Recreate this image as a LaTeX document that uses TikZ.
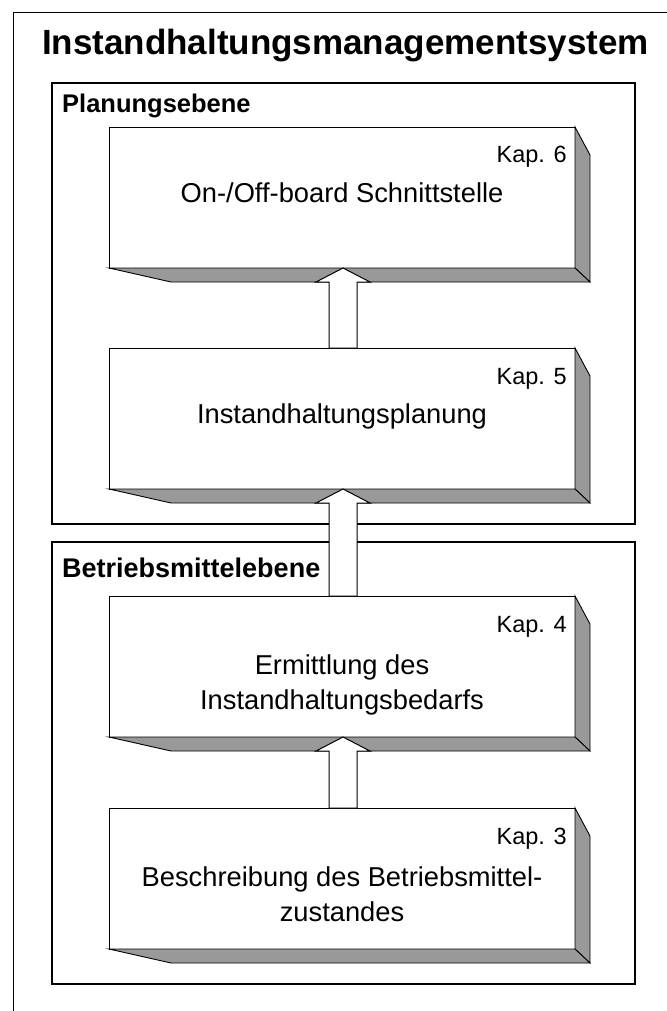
\documentclass[tikz,border=0pt]{standalone}
\usepackage{fontspec}
\setmainfont{Liberation Sans}
\usetikzlibrary{calc}
\definecolor{sidegray}{RGB}{153,153,153}
\newcommand\mkthreed[1]{%
  \draw[face] (#1.north east) -- ++(15,28) -- ($(#1.south east)+(15,14)$) -- (#1.south east) -- cycle;
  \draw[face] (#1.south west) -- ($(#1.south west)+(62,14)$) -- ($(#1.south east)+(15,14)$) -- (#1.south east) -- cycle;
}
\newcommand\mkarrow[2]{%
  \draw[blockarrow] ($(#1.south)+(1,0)$) -- ++(27,14) -- ++(-13,0) -- ($(#2.north)+(15,0)$)
    -- ($(#2.north)+(-13,0)$) -- ($(#1.south)+(-13,14)$) -- ++(-13,0) -- cycle;
}
\begin{document}
\begin{tikzpicture}[x=1pt,y=-1pt,
  frame/.style={draw, line width=1.1pt, inner sep=0pt, outer sep=0pt, anchor=north west},
  front/.style={draw, fill=white, line width=0.9pt, inner sep=0pt, outer sep=0pt,
    minimum width=466pt, minimum height=141pt, anchor=north west},
  face/.style={draw, fill=sidegray, line width=0.9pt, line join=miter},
  blockarrow/.style={draw, fill=white, line width=1pt, line join=miter},
  title/.style={font=\bfseries\fontsize{35}{42}\selectfont, inner sep=0pt, anchor=base},
  level/.style={font=\bfseries\fontsize{25.5}{30}\selectfont, inner sep=0pt, anchor=base west},
  kap/.style={font=\fontsize{23.5}{28}\selectfont, inner sep=0pt, anchor=base east},
  body/.style={font=\fontsize{27.3}{35}\selectfont, inner sep=0pt, align=center}]
\useasboundingbox (0,0) rectangle (666,1011);
\fill[white] (0,0) rectangle (666,1011);
% outer frame
\draw[line width=1pt] (13,1020) -- (13,13) -- (670,13);
\node[title] (title) at (345.5,55) {Instandhaltungsmanagementsystem};
% level frames
\node[frame, minimum width=583pt, minimum height=441pt] (plan) at (52,83) {};
\node[frame, minimum width=583pt, minimum height=442pt] (betr) at (52,542) {};
\node[level] (planlab) at (62,113) {Planungsebene};
\node[level, font=\bfseries\fontsize{27}{32}\selectfont] (betrlab) at (62,577) {Betriebsmittelebene};
% boxes
\node[front] (b6) at (109,127) {};
\node[front] (b5) at (109,348) {};
\node[front] (b4) at (109,596) {};
\node[front] (b3) at (109,808) {};
\mkthreed{b6}
\mkthreed{b5}
\mkthreed{b4}
\mkthreed{b3}
\node[kap] (k6) at ($(b6.north east)+(-8,36)$) {Kap. 6};
\node[kap] (k5) at ($(b5.north east)+(-8,36)$) {Kap. 5};
\node[kap] (k4) at ($(b4.north east)+(-8,36)$) {Kap. 4};
\node[kap] (k3) at ($(b3.north east)+(-8,36)$) {Kap. 3};
\node[body, anchor=base] (t6) at ($(b6.north)+(0,75)$) {On-/Off-board Schnittstelle};
\node[body, anchor=base] (t5) at ($(b5.north)+(0,75)$) {Instandhaltungsplanung};
\node[body] (t4) at ($(b4.north)+(0,89.4)$) {Ermittlung des\\Instandhaltungsbedarfs};
\node[body] (t3) at ($(b3.north)+(0,86.5)$) {Beschreibung des Betriebsmittel-\\zustandes};
% arrows
\mkarrow{b6}{b5}
\mkarrow{b5}{b4}
\mkarrow{b4}{b3}
\end{tikzpicture}
\end{document}
